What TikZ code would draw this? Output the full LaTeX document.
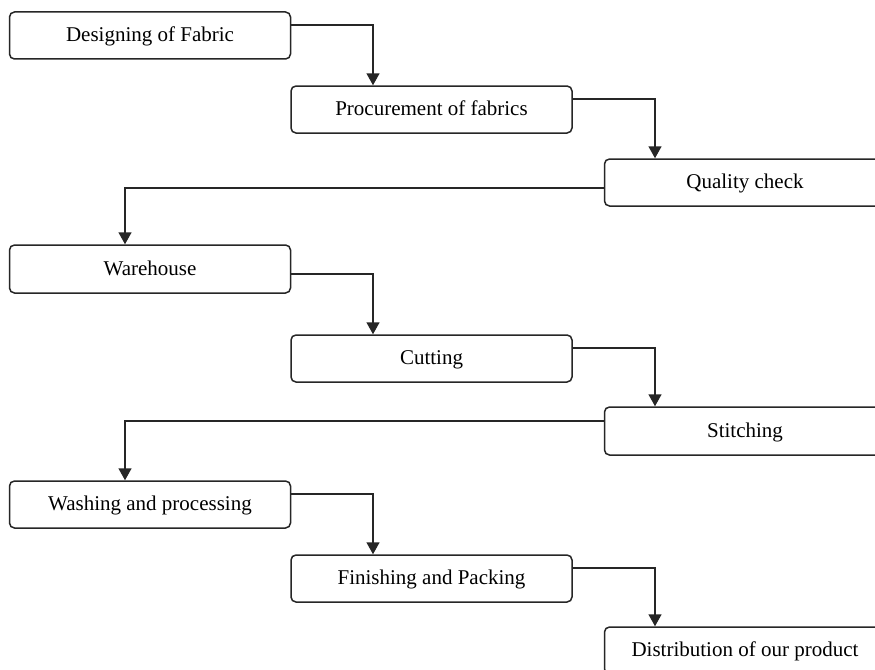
\documentclass[tikz,border=0pt]{standalone}
\usepackage{fontspec}
\setmainfont{Liberation Serif}
\usetikzlibrary{arrows.meta}
\begin{document}
\begin{tikzpicture}[x=1pt,y=-1pt,
  box/.style={draw=black!85, line width=1.5pt, rounded corners=5pt, rectangle,
    minimum width=281pt, minimum height=47pt, inner sep=0pt,
    font=\fontsize{21}{24}\selectfont, text height=14pt, text depth=2pt},
  arr/.style={draw=black!85, line width=1.5pt, -{Triangle[width=13pt,length=12pt]}}]
\useasboundingbox (0,0) rectangle (875,669);
\clip (0,0) rectangle (875,669);
\fill[white] (0,0) rectangle (875,669);
\node[box, text depth=1pt] (b1) at (150,35.5) {Designing of Fabric};
\node[box] (b2) at (431.5,109.5) {Procurement of fabrics};
\node[box] (b3) at (745,182.5) {Quality check};
\node[box, minimum height=48pt] (b4) at (150,269) {Warehouse};
\node[box] (b5) at (431.5,358.5) {Cutting};
\node[box, minimum height=48pt] (b6) at (745,431) {Stitching};
\node[box] (b7) at (150,504.5) {Washing and processing};
\node[box] (b8) at (431.5,578.5) {Finishing and Packing};
\node[box] (b9) at (745,650.5) {Distribution of our product};
\draw[arr] ([yshift=10.5pt]b1.east) -| ([xshift=-58.5pt]b2.north);
\draw[arr] ([yshift=10.5pt]b2.east) -| ([xshift=-90pt]b3.north);
\draw[arr] ([yshift=-5.5pt]b3.west) -| ([xshift=-25pt]b4.north);
\draw[arr] ([yshift=-5pt]b4.east) -| ([xshift=-58.5pt]b5.north);
\draw[arr] ([yshift=10.5pt]b5.east) -| ([xshift=-90pt]b6.north);
\draw[arr] ([yshift=10pt]b6.west) -| ([xshift=-25pt]b7.north);
\draw[arr] ([yshift=10.5pt]b7.east) -| ([xshift=-58.5pt]b8.north);
\draw[arr] ([yshift=10.5pt]b8.east) -| ([xshift=-90pt]b9.north);
\end{tikzpicture}
\end{document}
